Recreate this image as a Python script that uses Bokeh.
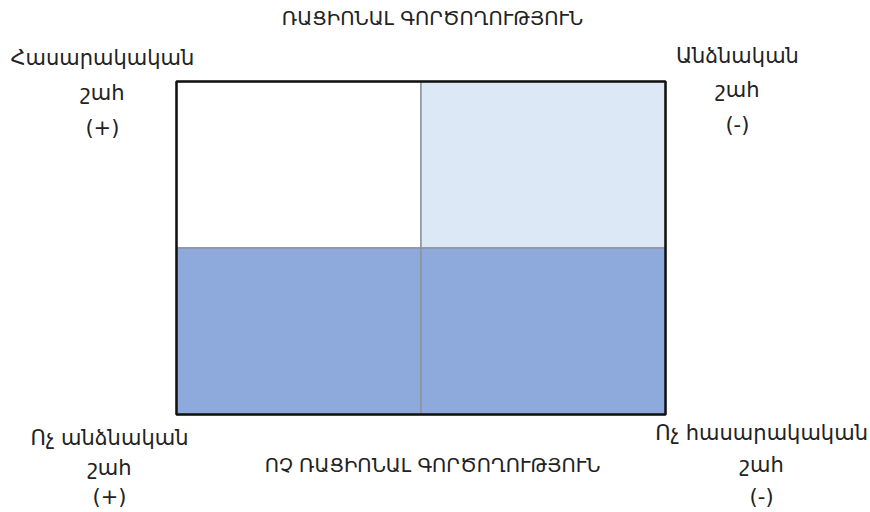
from bokeh.plotting import figure
from bokeh.models import ColumnDataSource
from bokeh.core.properties import value
from bokeh.embed import file_html
from bokeh.resources import INLINE

# ---- data ----
cell_cols = [0, 1, 0, 1]
cell_rows = [1, 1, 0, 0]
cell_colors = ["#ffffff", "#dde8f6", "#8eaadc", "#8eaadc"]

title_top = "ՌԱՑԻՈՆԱԼ ԳՈՐԾՈՂՈՒԹՅՈՒՆ"
title_bottom = "ՈՉ ՌԱՑԻՈՆԱԼ ԳՈՐԾՈՂՈՒԹՅՈՒՆ"

corner_lines = [
    ["Հասարակական", "շահ", "(+)"],
    ["Անձնական", "շահ", "(-)"],
    ["Ոչ անձնական", "շահ", "(+)"],
    ["Ոչ հասարակական", "շահ", "(-)"],
]
corner_x = [-0.303, 2.294, -0.274, 2.393]
corner_y0 = [2.144, 2.156, -0.144, -0.114]
corner_dy = [-0.213, -0.21, -0.177, -0.192]

title_x = 1.047
title_top_y = 2.378
title_bottom_y = -0.306

n_cols, n_rows = 2, 2

W, H = 854, 496
p = figure(width=W, height=H, output_backend="svg", toolbar_location=None,
           x_range=(-0.7198, 2.8384), y_range=(-0.5886, 2.4865),
           min_border=0, min_border_left=0, min_border_right=0,
           min_border_top=0, min_border_bottom=0)
p.width = 870
p.height = 512
p.axis.visible = False
p.grid.visible = False
p.outline_line_color = None
p.background_fill_color = "white"
p.border_fill_color = "white"

cells = ColumnDataSource(dict(
    left=cell_cols, right=[c + 1 for c in cell_cols],
    bottom=cell_rows, top=[r + 1 for r in cell_rows],
    color=cell_colors))
p.quad(left="left", right="right", bottom="bottom", top="top", source=cells,
       fill_color="color", line_color="#8d949c", line_width=1.5)

p.quad(left=[0], right=[n_cols], bottom=[0], top=[n_rows],
       fill_color=None, line_color="#111111", line_width=2.5)

font = value("DejaVu Sans")

p.text(x=[title_x, title_x], y=[title_top_y, title_bottom_y],
       text=[title_top, title_bottom], text_font=font, text_font_size="19.5px",
       text_align="center", text_baseline="middle", text_color="#222222")

xs, ys, ts = [], [], []
for lines, x, y0, dy in zip(corner_lines, corner_x, corner_y0, corner_dy):
    for i, t in enumerate(lines):
        xs.append(x)
        ys.append(y0 + i * dy)
        ts.append(t)
p.text(x=xs, y=ys, text=ts, text_font=font, text_font_size="21px",
       text_align="center", text_baseline="middle", text_color="#222222")

open("out.html", "w").write(file_html(p, INLINE))
